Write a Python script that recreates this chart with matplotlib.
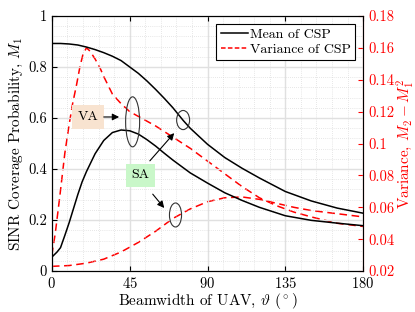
import matplotlib
matplotlib.use("Agg")
from matplotlib import pyplot as plt
from matplotlib.patches import Ellipse
from matplotlib.ticker import MultipleLocator
import numpy as np

plt.rcParams['font.family'] = ['cmr10', 'DejaVu Serif']
plt.rcParams['mathtext.fontset'] = 'cm'
plt.rcParams['axes.unicode_minus'] = False
plt.rcParams['axes.formatter.use_mathtext'] = True

# beamwidth (deg) and mean CSP, VA and SA
theta_mean = [0, 5, 10, 15, 20, 25, 30, 35, 40, 45, 50, 55, 60, 65, 70, 76, 80,
              90, 100, 110, 120, 135, 150, 165, 180]
mean_va = [0.892, 0.892, 0.89, 0.886, 0.878, 0.868, 0.856, 0.842, 0.825, 0.80,
           0.775, 0.745, 0.712, 0.677, 0.64, 0.59, 0.56, 0.497, 0.445, 0.403,
           0.365, 0.312, 0.275, 0.247, 0.227]
theta_sa = [0, 3, 5, 7.5, 10, 12.5, 15, 17.5, 20, 25, 30, 35, 40, 45, 50, 55,
            60, 65, 70, 80, 90, 100, 110, 120, 135, 150, 165, 180]
mean_sa = [0.055, 0.075, 0.092, 0.14, 0.19, 0.245, 0.30, 0.35, 0.39, 0.46,
           0.512, 0.543, 0.553, 0.55, 0.537, 0.515, 0.49, 0.462, 0.435, 0.385,
           0.345, 0.307, 0.277, 0.25, 0.217, 0.199, 0.188, 0.178]

# variance of CSP, VA and SA
theta_var_va = [0, 2, 4.6, 7.5, 10, 12, 14.3, 16.2, 18, 20, 22, 25, 28, 30, 35,
                40, 45, 50, 60, 70, 80, 90, 100, 110, 120, 130, 140, 150, 165, 180]
var_va = [0.03, 0.044, 0.067, 0.094, 0.112, 0.125, 0.137, 0.148, 0.156, 0.16,
          0.158, 0.153, 0.147, 0.142, 0.131, 0.125, 0.12, 0.117, 0.111, 0.104,
          0.097, 0.089, 0.081, 0.073, 0.066, 0.061, 0.057, 0.054, 0.050, 0.048]
theta_var_sa = [0, 10, 20, 30, 40, 45, 50, 60, 70, 80, 90, 100, 110, 120, 130,
                140, 150, 165, 180]
var_sa = [0.023, 0.0235, 0.025, 0.0275, 0.032, 0.035, 0.038, 0.045, 0.053,
          0.059, 0.0635, 0.066, 0.0665, 0.065, 0.0625, 0.060, 0.058, 0.056, 0.054]

fig = plt.figure(figsize=(4.15, 3.12), dpi=100)
ax = fig.add_axes([0.125, 0.131, 0.75, 0.818])
ax2 = ax.twinx()

ax.plot(theta_mean, mean_va, color='black', lw=1.1, zorder=3)
ax.plot(theta_sa, mean_sa, color='black', lw=1.1, zorder=3)
ax2.plot(theta_var_va, var_va, color='red', lw=1.1, ls=(0, (5, 3)))
ax2.plot(theta_var_sa, var_sa, color='red', lw=1.1, ls=(0, (5, 3)))

ax.set_xlim(0, 180)
ax.set_ylim(0, 1)
ax.set_xticks([0, 45, 90, 135, 180])
ax.set_yticks([0, 0.2, 0.4, 0.6, 0.8, 1])
ax.set_yticklabels(['0', '0.2', '0.4', '0.6', '0.8', '1'])
ax.xaxis.set_minor_locator(MultipleLocator(9))
ax.yaxis.set_minor_locator(MultipleLocator(0.04))
ax.grid(which='major', color='#e0e0e0', lw=1.0)
ax.grid(which='minor', color='#d0d0d0', lw=0.5, ls=(0, (1, 2)))
ax.set_axisbelow(True)
ax.tick_params(which='both', direction='in', labelsize=10.5)
ax.tick_params(which='minor', length=0)
ax.tick_params(which='major', length=3.5, top=True)

ax2.set_ylim(0.02, 0.18)
ax2.set_yticks([0.02, 0.04, 0.06, 0.08, 0.1, 0.12, 0.14, 0.16, 0.18])
ax2.set_yticklabels(['0.02', '0.04', '0.06', '0.08', '0.1', '0.12', '0.14', '0.16', '0.18'])
ax2.tick_params(direction='in', colors='red', labelsize=10.5, length=3.5)
ax2.spines['right'].set_color('red')

ax.set_xlabel(r'Beamwidth of UAV, $\vartheta$ ($^\circ$)', fontsize=11, labelpad=0)
ax.set_ylabel(r'SINR Coverage Probability, $M_1$', fontsize=11, labelpad=2)
ax2.set_ylabel(r'Variance, $M_2-M_1^2$', fontsize=11, color='red', labelpad=0)

# legend
h1, = ax.plot([], [], color='black', lw=1.1)
h2, = ax.plot([], [], color='red', lw=1.1, ls=(0, (3, 1.5)))
leg = ax.legend([h1, h2], ['Mean of CSP', 'Variance of CSP'], loc='upper right',
                fontsize=10, fancybox=False, framealpha=1, edgecolor='black',
                borderaxespad=0.6, handlelength=2.0, handletextpad=0.1,
                borderpad=0.3, labelspacing=0.15)
leg.get_frame().set_linewidth(0.8)
leg.set_zorder(10)

# annotations
ax.text(20.8, 0.604, 'VA', fontsize=10, ha='center', va='center', zorder=6,
        bbox=dict(boxstyle='square,pad=0.4', fc='#f8e3d0', ec='none'))
ax.annotate('', xy=(40.5, 0.604), xytext=(28.4, 0.604), zorder=6,
            arrowprops=dict(arrowstyle='-|>', color='black', lw=0.8, mutation_scale=10))
ax.text(51, 0.376, 'SA', fontsize=10, ha='center', va='center', zorder=6,
        bbox=dict(boxstyle='square,pad=0.4', fc='#c9f7c9', ec='none'))
ax.annotate('', xy=(71.8, 0.549), xytext=(55.6, 0.424), zorder=6,
            arrowprops=dict(arrowstyle='-|>', color='black', lw=0.8, mutation_scale=10))
ax.annotate('', xy=(66, 0.239), xytext=(57.3, 0.31), zorder=6,
            arrowprops=dict(arrowstyle='-|>', color='black', lw=0.8, mutation_scale=10))
for cx, cy, w, h in [(46.7, 0.585, 8.1, 0.196), (75.9, 0.592, 7.5, 0.075),
                     (71.5, 0.22, 7.0, 0.094)]:
    ax.add_patch(Ellipse((cx, cy), w, h, fill=False, ec='#333333', lw=0.8, zorder=5))

ax.set_zorder(ax2.get_zorder() + 1)
ax.patch.set_visible(False)

fig.savefig('out.png', dpi=100)
